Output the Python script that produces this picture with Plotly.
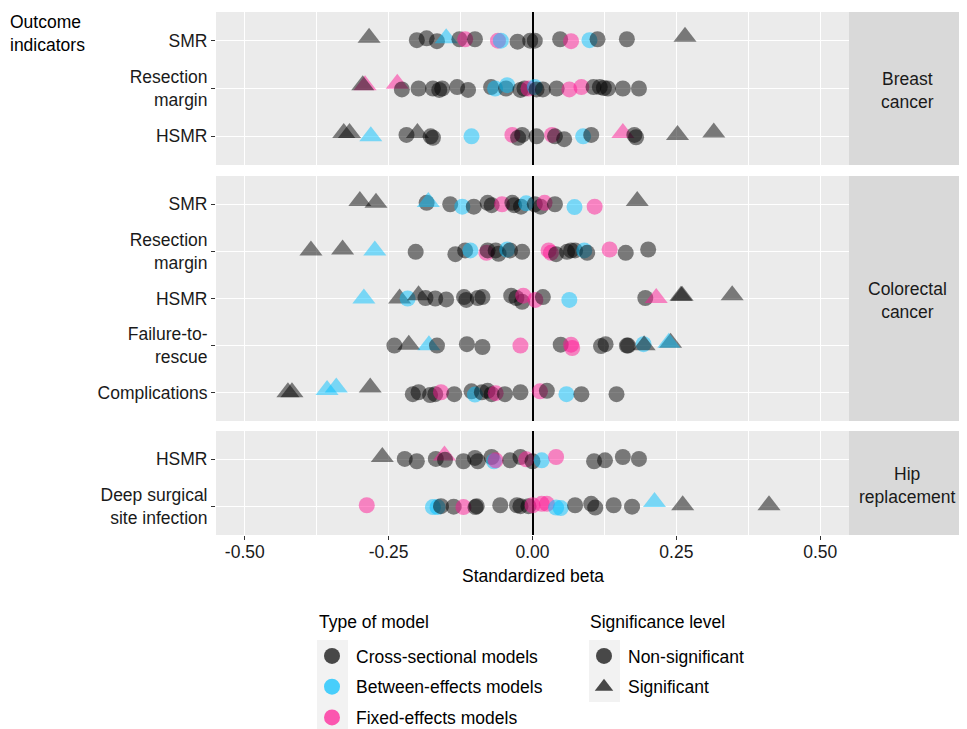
import plotly.graph_objects as go

# ---------------- data ----------------
# model codes: C = cross-sectional, B = between-effects, F = fixed-effects
# sig: 1 = significant (triangle), 0 = non-significant (circle)
# dy: vertical jitter (in row units)

BR_SMR_beta = [-0.284, -0.201, -0.184, -0.166, -0.150, -0.127, -0.117, -0.100, -0.060, -0.055, -0.026, -0.004, 0.004, 0.048, 0.067, 0.099, 0.113, 0.164, 0.265]
BR_SMR_model = ["C", "C", "C", "C", "B", "C", "F", "C", "F", "B", "C", "C", "C", "C", "F", "B", "C", "C", "C"]
BR_SMR_sig = [1, 0, 0, 0, 1, 0, 0, 0, 0, 0, 0, 0, 0, 0, 0, 0, 0, 0, 1]
BR_SMR_dy = [0.06, 0.01, 0.05, -0.01, 0.05, 0.03, 0.03, 0.03, 0.0, 0.0, -0.02, 0.0, 0.0, 0.03, -0.01, 0.01, 0.03, 0.03, 0.08]

BR_RES_beta = [-0.291, -0.295, -0.235, -0.227, -0.198, -0.173, -0.162, -0.157, -0.131, -0.112, -0.072, -0.065, -0.046, -0.044, -0.021, -0.014, -0.007, 0.004, 0.007, 0.018, 0.042, 0.064, 0.085, 0.106, 0.117, 0.124, 0.131, 0.157, 0.185]
BR_RES_model = ["F", "C", "F", "C", "C", "C", "C", "C", "C", "C", "C", "B", "C", "B", "C", "C", "F", "B", "C", "C", "C", "F", "F", "C", "C", "C", "C", "C", "C"]
BR_RES_sig = [1, 1, 1, 0, 0, 0, 0, 0, 0, 0, 0, 0, 0, 0, 0, 0, 0, 0, 0, 0, 0, 0, 0, 0, 0, 0, 0, 0, 0]
BR_RES_dy = [0.07, 0.07, 0.10, -0.02, 0.0, 0.0, -0.03, 0.0, 0.03, -0.03, 0.03, 0.0, 0.0, 0.07, -0.03, 0.0, 0.0, 0.03, -0.02, -0.02, 0.0, -0.02, 0.03, 0.03, 0.03, 0.01, 0.0, 0.0, 0.0]

BR_HSMR_beta = [-0.328, -0.318, -0.281, -0.219, -0.200, -0.177, -0.173, -0.106, -0.035, -0.025, -0.018, 0.007, 0.034, 0.039, 0.055, 0.088, 0.102, 0.157, 0.177, 0.180, 0.252, 0.315]
BR_HSMR_model = ["C", "C", "B", "C", "C", "C", "C", "B", "F", "C", "C", "C", "F", "C", "C", "B", "C", "F", "C", "C", "C", "C"]
BR_HSMR_sig = [1, 1, 1, 0, 1, 0, 0, 0, 0, 0, 0, 0, 0, 0, 0, 0, 0, 1, 0, 0, 1, 1]
BR_HSMR_dy = [0.07, 0.07, 0.0, 0.03, 0.07, 0.0, -0.03, 0.0, 0.03, -0.03, 0.03, 0.0, 0.03, 0.0, -0.06, 0.0, 0.03, 0.07, 0.03, -0.02, 0.03, 0.08]

CR_SMR_beta = [-0.300, -0.272, -0.184, -0.181, -0.143, -0.122, -0.102, -0.078, -0.071, -0.053, -0.035, -0.032, -0.020, -0.011, 0.004, 0.014, 0.021, 0.039, 0.073, 0.108, 0.182]
CR_SMR_model = ["C", "C", "C", "B", "C", "B", "C", "C", "C", "F", "C", "C", "C", "B", "C", "C", "F", "C", "B", "F", "C"]
CR_SMR_sig = [1, 1, 0, 1, 0, 0, 0, 0, 0, 0, 0, 0, 0, 0, 0, 0, 0, 0, 0, 0, 1]
CR_SMR_dy = [0.07, 0.03, 0.03, 0.05, 0.0, -0.05, -0.05, 0.03, -0.02, 0.0, 0.03, -0.02, -0.05, 0.02, 0.0, -0.05, 0.03, 0.0, -0.06, -0.05, 0.07]

CR_RES_beta = [-0.385, -0.330, -0.274, -0.203, -0.134, -0.117, -0.108, -0.080, -0.078, -0.064, -0.059, -0.044, -0.039, -0.018, 0.028, 0.032, 0.041, 0.060, 0.067, 0.074, 0.090, 0.095, 0.134, 0.162, 0.201]
CR_RES_model = ["C", "C", "B", "C", "C", "C", "B", "F", "C", "C", "C", "B", "C", "C", "F", "F", "C", "C", "C", "C", "B", "C", "F", "C", "C"]
CR_RES_sig = [1, 1, 1, 0, 0, 0, 0, 0, 0, 0, 0, 0, 0, 0, 0, 0, 0, 0, 0, 0, 0, 0, 0, 0, 0]
CR_RES_dy = [0.02, 0.04, 0.02, -0.01, -0.06, 0.02, 0.02, -0.03, 0.02, 0.02, -0.05, 0.04, 0.02, -0.01, 0.02, -0.03, -0.06, -0.01, 0.02, 0.02, 0.02, -0.03, 0.04, -0.03, 0.04]

CR_HSMR_beta = [-0.293, -0.231, -0.217, -0.198, -0.186, -0.169, -0.150, -0.119, -0.115, -0.095, -0.087, -0.037, -0.028, -0.018, -0.016, 0.005, 0.018, 0.064, 0.196, 0.215, 0.258, 0.260, 0.347]
CR_HSMR_model = ["B", "C", "B", "C", "C", "C", "C", "C", "C", "C", "C", "C", "C", "C", "F", "F", "C", "B", "C", "F", "C", "C", "C"]
CR_HSMR_sig = [1, 1, 0, 1, 0, 0, 0, 0, 0, 0, 0, 0, 0, 0, 0, 0, 0, 0, 0, 1, 1, 1, 1]
CR_HSMR_dy = [0.0, 0.0, 0.0, 0.07, 0.01, 0.0, -0.02, 0.03, -0.03, 0.01, 0.03, 0.06, 0.01, -0.07, 0.06, -0.03, 0.03, -0.03, 0.01, 0.01, 0.06, 0.06, 0.07]

CR_FTR_beta = [-0.240, -0.215, -0.180, -0.166, -0.114, -0.087, -0.021, 0.049, 0.067, 0.069, 0.119, 0.127, 0.164, 0.166, 0.193, 0.194, 0.240, 0.237]
CR_FTR_model = ["C", "C", "B", "C", "C", "C", "F", "C", "F", "F", "C", "C", "C", "C", "B", "C", "C", "B"]
CR_FTR_sig = [0, 1, 1, 0, 0, 0, 0, 0, 0, 0, 0, 0, 0, 0, 0, 1, 1, 1]
CR_FTR_dy = [0.0, 0.02, 0.01, 0.0, 0.03, -0.03, 0.0, 0.02, 0.02, -0.05, -0.01, 0.03, 0.0, 0.0, 0.03, 0.01, 0.06, 0.06]

CR_COMP_beta = [-0.425, -0.418, -0.357, -0.341, -0.282, -0.208, -0.198, -0.178, -0.169, -0.159, -0.136, -0.106, -0.100, -0.088, -0.078, -0.071, -0.064, -0.048, -0.021, 0.013, 0.025, 0.059, 0.085, 0.146]
CR_COMP_model = ["C", "C", "B", "B", "C", "C", "C", "C", "C", "F", "C", "C", "B", "C", "C", "C", "F", "C", "C", "F", "C", "B", "C", "C"]
CR_COMP_sig = [1, 1, 1, 1, 1, 0, 0, 0, 0, 0, 0, 0, 0, 0, 0, 0, 0, 0, 0, 0, 0, 0, 0, 0]
CR_COMP_dy = [0.01, 0.01, 0.06, 0.11, 0.11, -0.03, 0.01, -0.05, -0.03, 0.01, -0.03, 0.03, -0.04, 0.01, 0.04, -0.03, -0.01, -0.03, 0.01, 0.03, 0.04, -0.03, -0.03, -0.03]

HIP_HSMR_beta = [-0.261, -0.222, -0.201, -0.168, -0.153, -0.152, -0.120, -0.100, -0.095, -0.071, -0.067, -0.064, -0.039, -0.021, -0.011, 0.000, 0.016, 0.041, 0.107, 0.126, 0.157, 0.185]
HIP_HSMR_model = ["C", "C", "C", "C", "F", "C", "C", "C", "C", "C", "B", "F", "C", "C", "F", "C", "B", "F", "C", "C", "C", "C"]
HIP_HSMR_sig = [1, 0, 0, 0, 1, 0, 0, 0, 0, 0, 0, 0, 0, 0, 0, 0, 0, 0, 0, 0, 0, 0]
HIP_HSMR_dy = [0.05, 0.01, -0.04, 0.01, 0.08, -0.01, -0.04, 0.03, -0.04, 0.05, -0.04, -0.02, -0.02, 0.05, 0.0, -0.04, -0.02, 0.05, -0.04, -0.02, 0.05, 0.01]

HIP_DSSI_beta = [-0.288, -0.173, -0.165, -0.159, -0.137, -0.120, -0.099, -0.097, -0.056, -0.027, -0.021, -0.007, 0.000, 0.016, 0.025, 0.041, 0.049, 0.074, 0.102, 0.109, 0.141, 0.173, 0.212, 0.261, 0.411]
HIP_DSSI_model = ["F", "B", "B", "C", "C", "F", "C", "C", "C", "C", "C", "C", "F", "F", "F", "B", "B", "C", "C", "C", "C", "C", "B", "C", "C"]
HIP_DSSI_sig = [0, 0, 0, 0, 0, 0, 0, 0, 0, 0, 0, 0, 0, 0, 0, 0, 0, 0, 0, 0, 0, 0, 1, 1, 1]
HIP_DSSI_dy = [0.03, -0.01, -0.01, 0.01, 0.0, -0.01, -0.01, 0.01, 0.03, 0.03, 0.01, 0.01, 0.03, 0.06, 0.06, -0.02, -0.03, 0.03, 0.06, -0.02, 0.03, 0.0, 0.10, 0.03, 0.03]

panel_names = ["Breast<br>cancer", "Colorectal<br>cancer", "Hip<br>replacement"]
panel_rows = [
    ["SMR", "Resection<br>margin", "HSMR"],
    ["SMR", "Resection<br>margin", "HSMR", "Failure-to-<br>rescue", "Complications"],
    ["HSMR", "Deep surgical<br>site infection"],
]
panel_data = [
    [(BR_SMR_beta, BR_SMR_model, BR_SMR_sig, BR_SMR_dy),
     (BR_RES_beta, BR_RES_model, BR_RES_sig, BR_RES_dy),
     (BR_HSMR_beta, BR_HSMR_model, BR_HSMR_sig, BR_HSMR_dy)],
    [(CR_SMR_beta, CR_SMR_model, CR_SMR_sig, CR_SMR_dy),
     (CR_RES_beta, CR_RES_model, CR_RES_sig, CR_RES_dy),
     (CR_HSMR_beta, CR_HSMR_model, CR_HSMR_sig, CR_HSMR_dy),
     (CR_FTR_beta, CR_FTR_model, CR_FTR_sig, CR_FTR_dy),
     (CR_COMP_beta, CR_COMP_model, CR_COMP_sig, CR_COMP_dy)],
    [(HIP_HSMR_beta, HIP_HSMR_model, HIP_HSMR_sig, HIP_HSMR_dy),
     (HIP_DSSI_beta, HIP_DSSI_model, HIP_DSSI_sig, HIP_DSSI_dy)],
]
x_ticks = [-0.50, -0.25, 0.00, 0.25, 0.50]
x_ticktext = ["-0.50", "-0.25", "0.00", "0.25", "0.50"]

model_names = {"C": "Cross-sectional models", "B": "Between-effects models", "F": "Fixed-effects models"}
model_colors = {"C": "rgba(0,0,0,0.7)", "B": "rgba(0,191,255,0.7)", "F": "rgba(255,20,147,0.7)"}

# ---------------- layout geometry (window pixels; page body has an 8px margin) ----------------
OFF = 8
W, H = 967 - OFF, 770   # taller than the window so the legends never push the margins
FONT = "Liberation Sans, Arial, Helvetica, sans-serif"
FS = 17.5
px_x = lambda p: (p - OFF) / W
px_y = lambda p: 1 - (p - OFF) / H

panel_px = [(12, 165), (176, 421), (431, 535)]
x_left, x_right = 216, 849
strip_right = 965

fig = go.Figure()
layout = dict(
    width=W, height=H, margin=dict(l=0, r=0, t=0, b=0),
    paper_bgcolor="white", plot_bgcolor="#ebebeb",
    font=dict(family=FONT, size=FS, color="#000000"),
    showlegend=True,
)
shapes = []
annotations = []

for i, (rows, data, pname, (ptop, pbot)) in enumerate(zip(panel_rows, panel_data, panel_names, panel_px)):
    n = len(rows)
    xs, ys, cols, syms, sizes = [], [], [], [], []
    for r, (beta, model, sig, dy) in enumerate(data):
        yrow = n - r
        for b, m, s, d in zip(beta, model, sig, dy):
            xs.append(b)
            ys.append(yrow + d)
            cols.append(model_colors[m])
            syms.append("triangle-up" if s else "circle")
            sizes.append(20 if s else 16)
    xa = "x" if i == 0 else f"x{i+1}"
    ya = "y" if i == 0 else f"y{i+1}"
    fig.add_trace(go.Scatter(
        x=xs, y=ys, mode="markers", xaxis=xa, yaxis=ya, showlegend=False,
        hoverinfo="x",
        marker=dict(color=cols, symbol=syms, size=sizes, line=dict(width=0)),
    ))
    key = "" if i == 0 else str(i + 1)
    layout["xaxis" + key] = dict(
        domain=[px_x(x_left), px_x(x_right)], anchor="y" + key,
        range=[-0.55, 0.55], tickvals=x_ticks, ticktext=x_ticktext,
        showticklabels=(i == 2), ticks="outside" if i == 2 else "",
        ticklen=4, tickcolor="#333333", tickwidth=1.1, ticklabelstandoff=-3,
        tickfont=dict(size=FS, color="#1a1a1a"),
        showgrid=True, gridcolor="white", gridwidth=1.1,
        minor=dict(tickvals=[-0.375, -0.125, 0.125, 0.375], showgrid=True, gridcolor="white", gridwidth=0.55),
        zeroline=True, zerolinecolor="#000000", zerolinewidth=1.6,
        showline=False, fixedrange=True, automargin=False,
        matches=None if i == 0 else "x",
    )
    layout["yaxis" + key] = dict(
        domain=[px_y(pbot), px_y(ptop)], anchor="x" + key,
        range=[0.4, n + 0.6], tickvals=list(range(n, 0, -1)), ticktext=rows,
        ticks="outside", ticklen=4, tickcolor="#333333", tickwidth=1.1,
        tickfont=dict(size=FS, color="#1a1a1a"),
        showgrid=True, gridcolor="white", gridwidth=1.1,
        zeroline=False, showline=False, fixedrange=True, automargin=False,
    )
    shapes.append(dict(type="rect", xref="paper", yref="paper",
                       x0=px_x(x_right), x1=min(1.0, px_x(strip_right)), y0=px_y(pbot), y1=px_y(ptop),
                       fillcolor="#d9d9d9", line=dict(width=0), layer="below"))
    annotations.append(dict(text=pname, xref="paper", yref="paper",
                            x=px_x((x_right + strip_right) / 2), y=px_y((ptop + pbot) / 2 + 2),
                            xanchor="center", yanchor="middle",
                            showarrow=False, font=dict(size=FS, color="#1a1a1a"), align="center"))

# axis title and y title
annotations.append(dict(text="Standardized beta", xref="paper", yref="paper",
                        x=px_x((x_left + x_right) / 2), y=px_y(576), xanchor="center", yanchor="middle",
                        showarrow=False, font=dict(size=FS, color="#000000")))
annotations.append(dict(text="Outcome<br>indicators", xref="paper", yref="paper",
                        x=0, y=px_y(10), xanchor="left", yanchor="top", align="left",
                        showarrow=False, font=dict(size=FS, color="#000000")))
# legend titles
annotations.append(dict(text="Type of model", xref="paper", yref="paper",
                        x=px_x(317), y=px_y(622), xanchor="left", yanchor="middle",
                        showarrow=False, font=dict(size=FS, color="#000000")))
annotations.append(dict(text="Significance level", xref="paper", yref="paper",
                        x=px_x(588), y=px_y(622), xanchor="left", yanchor="middle",
                        showarrow=False, font=dict(size=FS, color="#000000")))

# legend dummy traces
for m in ["C", "B", "F"]:
    fig.add_trace(go.Scatter(x=[None], y=[None], mode="markers", name=model_names[m],
                             legend="legend", legendgroup="m" + m,
                             marker=dict(color=model_colors[m], symbol="circle", size=16)))
for s, nm in [(0, "Non-significant"), (1, "Significant")]:
    fig.add_trace(go.Scatter(x=[None], y=[None], mode="markers", name=nm,
                             legend="legend2", legendgroup="s" + str(s),
                             marker=dict(color="rgba(0,0,0,0.7)", symbol="triangle-up" if s else "circle",
                                         size=16)))

# legend key backgrounds
shapes.append(dict(type="rect", xref="paper", yref="paper", x0=px_x(317), x1=px_x(348),
                   y0=px_y(733), y1=px_y(640), fillcolor="#f2f2f2", line=dict(width=0), layer="below"))
shapes.append(dict(type="rect", xref="paper", yref="paper", x0=px_x(589), x1=px_x(620),
                   y0=px_y(702), y1=px_y(640), fillcolor="#f2f2f2", line=dict(width=0), layer="below"))

legend_common = dict(xanchor="left", yanchor="top", bgcolor="rgba(0,0,0,0)",
                     font=dict(size=FS, color="#000000"), itemsizing="trace", itemwidth=38,
                     tracegroupgap=5, orientation="v", itemclick=False, itemdoubleclick=False)
layout["legend"] = dict(legend_common, x=px_x(308), y=px_y(638))
layout["legend2"] = dict(legend_common, x=px_x(580), y=px_y(638))

layout["shapes"] = shapes
layout["annotations"] = annotations
fig.update_layout(**layout)

fig.write_html("out.html")
